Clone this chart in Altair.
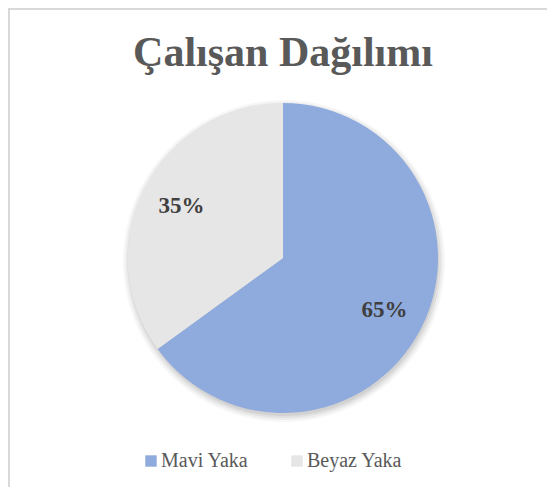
import altair as alt
import pandas as pd

title_text = "Çalışan Dağılımı"
categories = ["Mavi Yaka", "Beyaz Yaka"]
values = [65, 35]
labels = ["65%", "35%"]
colors = ["#8FAADC", "#E7E6E6"]

df = pd.DataFrame({"cat": categories, "val": values, "lab": labels, "ord": list(range(len(categories)))})

W, H = 539, 479
CX, CY, R = 275, 250, 155

shadow_layers = []
for k, op in [(6, 0.03), (4, 0.04), (2, 0.05), (0, 0.06)]:
    shadow_layers.append(
        alt.Chart(df).mark_arc(radius=R + k, color="black", opacity=op).encode(
            theta=alt.Theta("val:Q", stack=True),
            order=alt.Order("ord:Q"),
            x=alt.value(CX + 1),
            y=alt.value(CY + 3),
        )
    )

pie = alt.Chart(df).mark_arc(radius=R).encode(
    theta=alt.Theta("val:Q", stack=True),
    order=alt.Order("ord:Q"),
    color=alt.Color(
        "cat:N",
        scale=alt.Scale(domain=categories, range=colors),
        legend=alt.Legend(
            title=None,
            orient="none",
            legendX=133,
            legendY=443,
            direction="horizontal",
            symbolType="square",
            symbolSize=130,
            symbolStrokeWidth=0,
            symbolOpacity=1,
            labelFont="Liberation Serif",
            labelFontSize=20,
            labelColor="#595959",
            labelOffset=0,
            columnPadding=38,
            padding=0,
        ),
    ),
    x=alt.value(CX),
    y=alt.value(CY),
)

text = alt.Chart(df).mark_text(
    radius=114, font="Liberation Serif", fontSize=23, fontWeight="bold", color="#404040"
).encode(
    theta=alt.Theta("val:Q", stack=True),
    order=alt.Order("ord:Q"),
    text="lab:N",
    x=alt.value(CX),
    y=alt.value(CY),
)

title = alt.Chart(pd.DataFrame({"t": [title_text]})).mark_text(
    font="Liberation Serif", fontSize=42, fontWeight="bold", color="#595959", baseline="alphabetic"
).encode(text="t:N", x=alt.value(CX), y=alt.value(58))

border_top = alt.Chart(df).mark_rule(color="#D9D9D9", strokeWidth=2).encode(
    x=alt.value(0), x2=alt.value(W), y=alt.value(1)
)
border_left = alt.Chart(df).mark_rule(color="#D9D9D9", strokeWidth=2).encode(
    x=alt.value(1), y=alt.value(0), y2=alt.value(H)
)

chart = alt.layer(*shadow_layers, pie, text, title, border_top, border_left).properties(
    width=W, height=H, autosize="none", padding=0
).configure_view(stroke=None)

chart.save("out.html", embed_options={"renderer": "svg", "actions": False})
